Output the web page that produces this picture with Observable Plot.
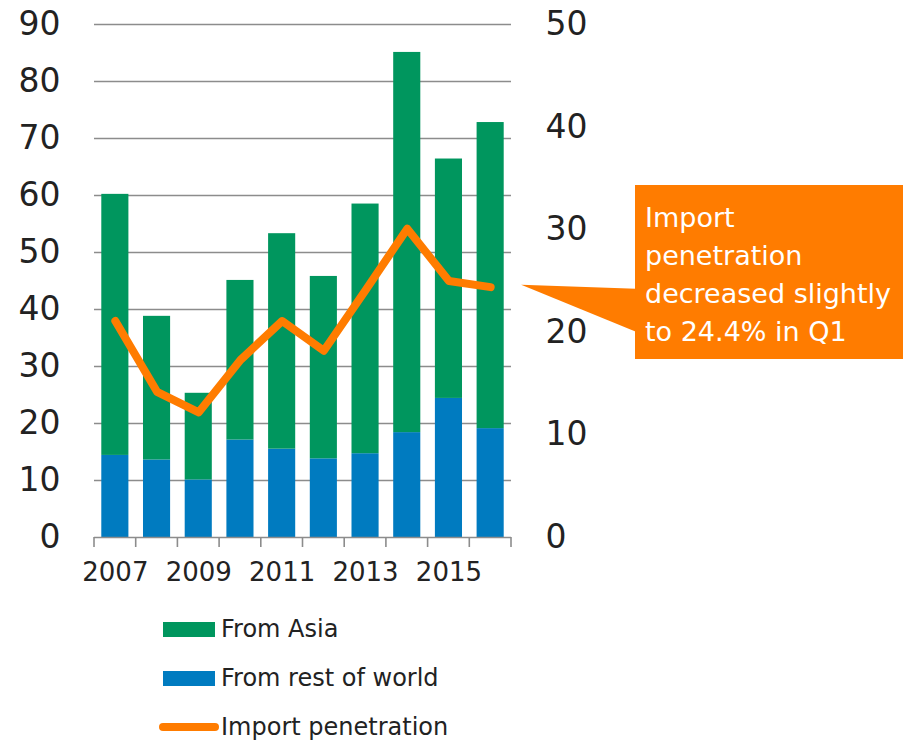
<!DOCTYPE html>
<html><head><meta charset="utf-8">
<script src="https://cdn.jsdelivr.net/npm/d3@7"></script>
<script src="https://cdn.jsdelivr.net/npm/@observablehq/plot@0.6"></script>
<style>
body{margin:0;background:#fff;font-family:"DejaVu Sans",sans-serif;color:#222;}
#wrap{position:relative;width:903px;height:743px;overflow:hidden;}
#legend{position:relative;width:903px;height:143px;}
.item{position:absolute;left:0;height:30px;display:flex;align-items:center;font-size:24px;color:#222;}
.sw{position:absolute;}
.lab{position:absolute;left:221px;white-space:nowrap;line-height:30px;}
</style></head><body>
<div id="wrap"><div id="chart"></div><div id="legend"></div></div>
<script>
const years = [2007, 2008, 2009, 2010, 2011, 2012, 2013, 2014, 2015, 2016];
const fromAsia = [45.8, 25.2, 15.2, 28.0, 37.8, 32.0, 43.8, 66.7, 42.0, 53.7];
const fromRestOfWorld = [14.4, 13.6, 10.1, 17.1, 15.5, 13.8, 14.7, 18.4, 24.4, 19.1];
const importPenetration = [21.1, 14.2, 12.2, 17.3, 21.1, 18.2, 24.1, 30.1, 25.0, 24.4];
const leftTicks = [0, 10, 20, 30, 40, 50, 60, 70, 80, 90];
const rightTicks = [0, 10, 20, 30, 40, 50];
const xTickLabels = [2007, 2009, 2011, 2013, 2015];
const seriesNames = ["From Asia", "From rest of world", "Import penetration"];
const calloutLines = ["Import", "penetration", "decreased slightly", "to 24.4% in Q1"];

const GREEN = "#00965E", BLUE = "#007BC0", ORANGE = "#FF7C00", GRID = "#8c8c8c";
const FONT = "'DejaVu Sans', sans-serif";
const RATIO = 90 / 50;

const rows = years.flatMap((y, i) => [
  {year: y, series: seriesNames[1], value: fromRestOfWorld[i]},
  {year: y, series: seriesNames[0], value: fromAsia[i]}
]);
const lineData = years.map((y, i) => ({year: y, v: importPenetration[i] * RATIO, raw: importPenetration[i]}));

const plot = Plot.plot({
  width: 903, height: 600,
  marginTop: 24, marginBottom: 63, marginLeft: 94, marginRight: 392,
  style: {fontFamily: FONT, color: "#222", background: "transparent", overflow: "visible"},
  x: {domain: years, paddingInner: 0.35, paddingOuter: 0.175, round: false, label: null},
  y: {domain: [0, 90], label: null},
  color: {domain: seriesNames.slice(0, 2), range: [GREEN, BLUE]},
  marks: [
    Plot.gridY(leftTicks.filter(d => d > 0), {stroke: GRID, strokeOpacity: 1, strokeWidth: 1.6}),
    Plot.barY(rows, {x: "year", y: "value", fill: "series", order: [seriesNames[1], seriesNames[0]]}),
    Plot.ruleY([0], {stroke: GRID, strokeWidth: 1.6}),
    Plot.lineY(lineData, {x: "year", y: "v", stroke: ORANGE, strokeWidth: 8, strokeLinejoin: "round", strokeLinecap: "round"}),
    Plot.axisY(leftTicks, {anchor: "left", tickSize: 0, tickPadding: 34, fontSize: 33, label: null}),
    Plot.axisY(rightTicks.map(v => v * RATIO), {anchor: "right", tickSize: 0, tickPadding: 34, fontSize: 33, tickFormat: d => String(Math.round(d / RATIO)), label: null}),
    Plot.axisX(xTickLabels, {tickSize: 0, tickPadding: 25, fontSize: 26, tickFormat: d => String(d), label: null})
  ]
});
document.getElementById("chart").appendChild(plot);

// x-axis ticks at band boundaries
const sx = plot.scale("x"), sy = plot.scale("y");
const svg = d3.select(plot);
const step = sx.step, bw = sx.bandwidth;
const y0 = sy.apply(0);
const bounds = years.map(y => sx.apply(y) - (step - bw) / 2);
bounds.push(bounds[bounds.length - 1] + step);
svg.append("g").selectAll("line").data(bounds).join("line")
  .attr("x1", d => d).attr("x2", d => d).attr("y1", y0).attr("y2", y0 + 10)
  .attr("stroke", GRID).attr("stroke-width", 1.6);

// callout
const last = lineData[lineData.length - 1];
const tipX = sx.apply(last.year) + bw / 2 + 31, tipY = sy.apply(last.v) - 2;
const bx = 635, by = 185, bwid = 268, bh = 174;
const g = svg.append("g");
g.append("path")
  .attr("d", `M${tipX},${tipY}L${bx + 1},${tipY + 4}L${bx + 1},${tipY + 47}Z`)
  .attr("fill", ORANGE);
g.append("rect").attr("x", bx).attr("y", by).attr("width", bwid).attr("height", bh).attr("fill", ORANGE);
const t = g.append("text").attr("fill", "#fff").attr("font-size", 27)
  .attr("text-anchor", "start").attr("font-family", FONT);
calloutLines.forEach((s, i) => {
  t.append("tspan").attr("x", bx + 10).attr("y", by + 42 + i * 38).text(s);
});

// legend
const lg = document.getElementById("legend");
const legendItems = [
  {name: seriesNames[0], type: "bar", color: GREEN, cy: 29},
  {name: seriesNames[1], type: "bar", color: BLUE, cy: 78},
  {name: seriesNames[2], type: "line", color: ORANGE, cy: 127}
];
legendItems.forEach(it => {
  const sw = document.createElement("div");
  sw.className = "sw";
  if (it.type === "bar") {
    sw.style.cssText = `left:163px;top:${it.cy - 7.5}px;width:52px;height:15px;background:${it.color};`;
  } else {
    sw.style.cssText = `left:159px;top:${it.cy - 4}px;width:60px;height:8px;border-radius:4px;background:${it.color};`;
  }
  lg.appendChild(sw);
  const lab = document.createElement("div");
  lab.className = "lab item";
  lab.style.top = (it.cy - 15) + "px";
  lab.textContent = it.name;
  lg.appendChild(lab);
});
</script>
</body></html>
